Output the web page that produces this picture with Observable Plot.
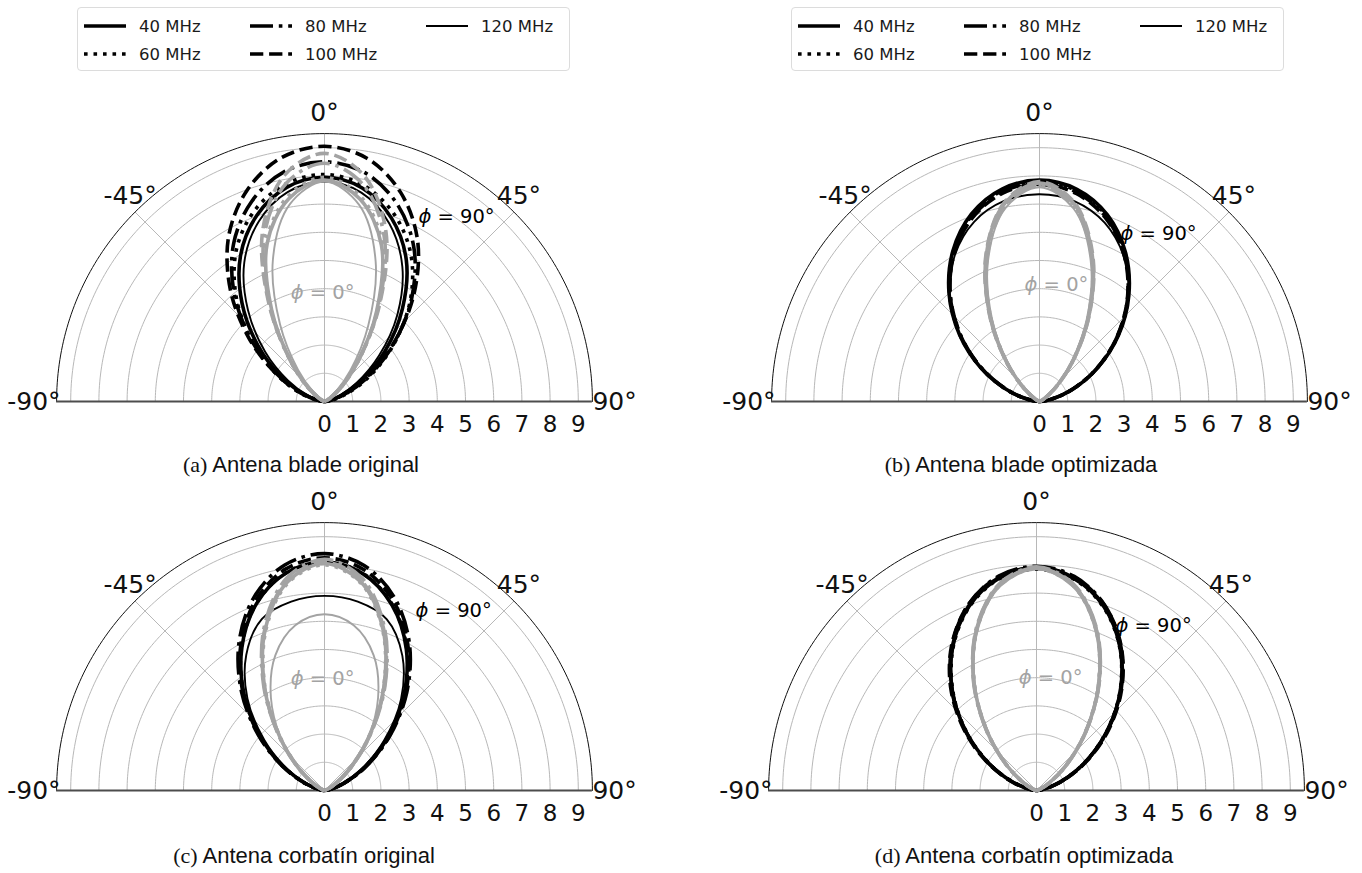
<!DOCTYPE html>
<html>
<head>
<meta charset="utf-8">
<script src="https://cdn.jsdelivr.net/npm/d3@7"></script>
<script src="https://cdn.jsdelivr.net/npm/@observablehq/plot@0.6"></script>
<style>
  body { margin: 0; background: #fff; }
  #page { position: relative; width: 1362px; height: 873px; overflow: hidden; background: #fff; font-family: "DejaVu Sans", sans-serif; }
  .panel { position: absolute; }
  .panel svg { overflow: visible; }
  .legend { position: absolute; width: 493px; height: 64px; box-sizing: border-box; border: 1px solid #dcdcdc; border-radius: 4px; background: #fff; }
  .legend .item { position: absolute; height: 20px; display: flex; align-items: center; font-size: 16.5px; color: #1a1a1a; white-space: nowrap; }
  .legend .item svg { margin-right: 13px; }
  .caption { position: absolute; transform: translate(-50%, -50%); white-space: nowrap; font-family: "Liberation Sans", Arial, sans-serif; font-size: 22px; color: #111; }
  .caption .tag { font-family: "Liberation Serif", "DejaVu Serif", serif; }
</style>
</head>
<body>
<div id="page"></div>
<script>
// Frequencies, their legend order and the sampled elevation angles (degrees)
const frequencies = ["40 MHz", "60 MHz", "80 MHz", "100 MHz", "120 MHz"];
const thetaDeg = [-90, -80, -70, -60, -50, -40, -30, -20, -10, 0, 10, 20, 30, 40, 50, 60, 70, 80, 90];
const radialTicks = [0, 1, 2, 3, 4, 5, 6, 7, 8, 9];
const ringValues = [1, 2, 3, 4, 5, 6, 7, 8, 9];
const spokeAngles = [-45, 0, 45];

// Gain patterns, one row per frequency (40, 60, 80, 100, 120 MHz), one value per angle in thetaDeg
const bladeOriginalPhi90 = [
  [0, 0.20, 0.80, 1.78, 3.08, 4.55, 5.96, 7.02, 7.71, 7.95, 7.69, 6.93, 5.80, 4.30, 2.82, 1.52, 0.64, 0.14, 0],
  [0, 0.27, 0.97, 2.00, 3.38, 4.88, 6.24, 7.22, 7.84, 8.05, 7.80, 7.12, 6.10, 4.75, 3.25, 1.92, 0.90, 0.25, 0],
  [0, 0.24, 0.90, 1.95, 3.38, 4.98, 6.45, 7.55, 8.27, 8.50, 8.24, 7.48, 6.33, 4.82, 3.22, 1.83, 0.82, 0.21, 0],
  [0, 0.23, 0.92, 2.00, 3.50, 5.20, 6.79, 7.99, 8.78, 9.05, 8.75, 7.89, 6.60, 4.92, 3.18, 1.73, 0.72, 0.16, 0],
  [0, 0.14, 0.63, 1.50, 2.75, 4.22, 5.69, 6.80, 7.54, 7.80, 7.52, 6.72, 5.52, 4.02, 2.52, 1.31, 0.51, 0.10, 0]
];
const bladeOriginalPhi0 = [
  [0, 0, 0.03, 0.22, 0.75, 1.85, 3.75, 5.95, 7.30, 7.85, 7.28, 5.90, 3.70, 1.82, 0.73, 0.21, 0.03, 0, 0],
  [0, 0, 0.03, 0.22, 0.76, 1.88, 3.80, 6.02, 7.40, 7.95, 7.38, 5.98, 3.76, 1.85, 0.74, 0.22, 0.03, 0, 0],
  [0, 0, 0.03, 0.21, 0.74, 1.86, 3.85, 6.25, 7.85, 8.45, 7.82, 6.20, 3.80, 1.83, 0.72, 0.21, 0.03, 0, 0],
  [0, 0, 0.03, 0.20, 0.72, 1.84, 3.90, 6.42, 8.15, 8.80, 8.12, 6.38, 3.86, 1.80, 0.70, 0.20, 0.03, 0, 0],
  [0, 0, 0.01, 0.12, 0.50, 1.45, 3.15, 5.35, 7.10, 7.80, 7.08, 5.30, 3.10, 1.42, 0.49, 0.12, 0.01, 0, 0]
];
const bladeOptimizedPhi90 = [
  [0, 0.40, 1.26, 2.42, 3.71, 4.99, 6.15, 7.07, 7.65, 7.85, 7.64, 7.04, 6.10, 4.93, 3.66, 2.38, 1.24, 0.39, 0],
  [0, 0.40, 1.25, 2.40, 3.68, 4.96, 6.11, 7.02, 7.60, 7.80, 7.59, 6.99, 6.06, 4.90, 3.63, 2.36, 1.22, 0.38, 0],
  [0, 0.39, 1.24, 2.38, 3.65, 4.92, 6.06, 6.97, 7.55, 7.75, 7.54, 6.94, 6.02, 4.87, 3.61, 2.35, 1.21, 0.38, 0],
  [0, 0.40, 1.25, 2.39, 3.66, 4.93, 6.05, 6.94, 7.50, 7.70, 7.49, 6.90, 6.00, 4.86, 3.60, 2.35, 1.22, 0.38, 0],
  [0, 0.40, 1.26, 2.42, 3.70, 4.95, 6.00, 6.78, 7.22, 7.35, 7.21, 6.75, 5.96, 4.90, 3.65, 2.38, 1.24, 0.39, 0]
];
const bladeOptimizedPhi0 = [
  [0, 0, 0.02, 0.17, 0.69, 1.80, 3.52, 5.52, 7.13, 7.75, 7.11, 5.48, 3.50, 1.78, 0.68, 0.17, 0.02, 0, 0],
  [0, 0, 0.02, 0.17, 0.68, 1.79, 3.50, 5.48, 7.08, 7.70, 7.06, 5.45, 3.48, 1.77, 0.67, 0.17, 0.02, 0, 0],
  [0, 0, 0.02, 0.17, 0.68, 1.78, 3.48, 5.44, 7.03, 7.65, 7.02, 5.42, 3.46, 1.76, 0.67, 0.17, 0.02, 0, 0],
  [0, 0, 0.02, 0.17, 0.69, 1.81, 3.54, 5.55, 7.17, 7.80, 7.16, 5.52, 3.52, 1.80, 0.68, 0.17, 0.02, 0, 0],
  [0, 0, 0.01, 0.14, 0.62, 1.68, 3.36, 5.33, 6.96, 7.60, 6.95, 5.31, 3.34, 1.66, 0.61, 0.14, 0.01, 0, 0]
];
const bowtieOriginalPhi90 = [
  [0, 0.15, 0.70, 1.66, 2.96, 4.43, 5.86, 7.05, 7.83, 8.10, 7.81, 7.00, 5.80, 4.37, 2.91, 1.63, 0.69, 0.15, 0],
  [0, 0.15, 0.71, 1.67, 2.98, 4.45, 5.88, 7.06, 7.84, 8.10, 7.82, 7.02, 5.83, 4.41, 2.95, 1.65, 0.70, 0.15, 0],
  [0, 0.15, 0.72, 1.72, 3.06, 4.58, 6.06, 7.30, 8.12, 8.40, 8.10, 7.27, 6.02, 4.54, 3.03, 1.70, 0.71, 0.15, 0],
  [0, 0.15, 0.70, 1.68, 3.00, 4.49, 5.94, 7.16, 7.97, 8.25, 7.96, 7.15, 5.92, 4.47, 2.99, 1.67, 0.70, 0.15, 0],
  [0, 0.13, 0.62, 1.52, 2.78, 4.25, 5.55, 6.48, 6.80, 6.90, 6.80, 6.46, 5.52, 4.22, 2.75, 1.50, 0.61, 0.13, 0]
];
const bowtieOriginalPhi0 = [
  [0, 0, 0.06, 0.36, 1.12, 2.45, 4.26, 6.12, 7.52, 8.05, 7.50, 6.07, 4.20, 2.41, 1.09, 0.35, 0.06, 0, 0],
  [0, 0, 0.06, 0.35, 1.10, 2.42, 4.22, 6.07, 7.47, 8.00, 7.46, 6.04, 4.18, 2.40, 1.09, 0.35, 0.06, 0, 0],
  [0, 0, 0.07, 0.37, 1.14, 2.49, 4.32, 6.22, 7.66, 8.20, 7.65, 6.19, 4.29, 2.46, 1.12, 0.36, 0.07, 0, 0],
  [0, 0, 0.06, 0.36, 1.12, 2.46, 4.27, 6.15, 7.57, 8.10, 7.55, 6.12, 4.24, 2.43, 1.11, 0.36, 0.06, 0, 0],
  [0, 0.01, 0.12, 0.50, 1.25, 2.40, 3.80, 5.10, 5.95, 6.25, 5.95, 5.10, 3.80, 2.40, 1.25, 0.50, 0.12, 0.01, 0]
];
const bowtieOptimizedPhi90 = [
  [0, 0.24, 0.93, 1.99, 3.28, 4.66, 5.95, 6.99, 7.67, 7.90, 7.66, 6.98, 5.93, 4.64, 3.26, 1.98, 0.92, 0.24, 0],
  [0, 0.24, 0.92, 1.97, 3.25, 4.62, 5.90, 6.94, 7.62, 7.85, 7.61, 6.93, 5.89, 4.61, 3.24, 1.96, 0.92, 0.24, 0],
  [0, 0.24, 0.93, 2.00, 3.30, 4.68, 5.98, 7.03, 7.72, 7.95, 7.71, 7.02, 5.96, 4.67, 3.28, 1.99, 0.93, 0.24, 0],
  [0, 0.26, 0.97, 2.05, 3.35, 4.73, 6.00, 7.03, 7.69, 7.90, 7.68, 7.01, 5.98, 4.70, 3.33, 2.03, 0.96, 0.25, 0],
  [0, 0.23, 0.90, 1.95, 3.22, 4.59, 5.88, 6.93, 7.61, 7.85, 7.60, 6.92, 5.86, 4.57, 3.20, 1.94, 0.90, 0.23, 0]
];
const bowtieOptimizedPhi0 = [
  [0, 0.01, 0.11, 0.49, 1.35, 2.72, 4.44, 6.16, 7.43, 7.90, 7.42, 6.15, 4.43, 2.71, 1.34, 0.49, 0.11, 0.01, 0],
  [0, 0.01, 0.11, 0.49, 1.34, 2.70, 4.42, 6.13, 7.40, 7.86, 7.39, 6.12, 4.41, 2.69, 1.33, 0.48, 0.11, 0.01, 0],
  [0, 0.01, 0.11, 0.50, 1.36, 2.74, 4.47, 6.19, 7.46, 7.93, 7.45, 6.18, 4.46, 2.73, 1.35, 0.49, 0.11, 0.01, 0],
  [0, 0.01, 0.11, 0.49, 1.35, 2.72, 4.44, 6.15, 7.42, 7.88, 7.41, 6.14, 4.43, 2.71, 1.34, 0.49, 0.11, 0.01, 0],
  [0, 0.01, 0.10, 0.47, 1.31, 2.66, 4.37, 6.08, 7.36, 7.84, 7.35, 6.07, 4.36, 2.65, 1.30, 0.47, 0.10, 0.01, 0]
];

// Drawing styles
const RMAX = 9.5;          // radial limit of each half-disc
const UNIT = 28.2;         // pixels per gain unit
const R_PX = RMAX * UNIT;
const BLACK = "#000000";
const GRAY = "#a3a3a3";
const GRID = "#b8b8b8";
const lineStyles = {
  "40 MHz":  {width: 3.6, dash: null},
  "60 MHz":  {width: 3.6, dash: "3.6,5.9"},
  "80 MHz":  {width: 3.6, dash: "23,5.8,3.6,5.8"},
  "100 MHz": {width: 3.6, dash: "13.3,5.8"},
  "120 MHz": {width: 1.9, dash: null}
};

// Panel layout: centre of each half-disc on the page, caption and label placement
const panels = [
  {cx: 324, base: 401, phi90: bladeOriginalPhi90, phi0: bladeOriginalPhi0,
   tag: "(a)", caption: "Antena blade original", capX: 301, capY: 465,
   label90: [3.33, 6.56], label0: [-0.07, 3.87]},
  {cx: 1039, base: 401, phi90: bladeOptimizedPhi90, phi0: bladeOptimizedPhi0,
   tag: "(b)", caption: "Antena blade optimizada", capX: 1021, capY: 465,
   label90: [2.87, 5.96], label0: [0.6, 4.15]},
  {cx: 324, base: 790, phi90: bowtieOriginalPhi90, phi0: bowtieOriginalPhi0,
   tag: "(c)", caption: "Antena corbatín original", capX: 304, capY: 856,
   label90: [3.23, 6.38], label0: [-0.07, 3.97]},
  {cx: 1036, base: 790, phi90: bowtieOptimizedPhi90, phi0: bowtieOptimizedPhi0,
   tag: "(d)", caption: "Antena corbatín optimizada", capX: 1024, capY: 856,
   label90: [2.8, 5.85], label0: [0.5, 4.0]}
];
const legendLefts = [77, 791];

const rad = (deg) => deg * Math.PI / 180;
const px = (d) => d.r * Math.sin(rad(d.theta));
const py = (d) => d.r * Math.cos(rad(d.theta));

const page = document.getElementById("page");

function seriesRows(matrix, phi) {
  const rows = [];
  matrix.forEach((values, i) => {
    values.forEach((r, j) => rows.push({freq: frequencies[i], phi, theta: thetaDeg[j], r}));
  });
  return rows;
}

function drawPanel(p) {
  const W = 640, H = 345, ox = 320, oy = 310;
  const arcAngles = d3.range(-90, 90.5, 1);
  const rings = ringValues.flatMap((k) => arcAngles.map((theta) => ({k, theta, r: k})));
  const outer = arcAngles.map((theta) => ({theta, r: RMAX}));
  const rows = [...seriesRows(p.phi90, "90"), ...seriesRows(p.phi0, "0")];

  const curveMarks = [];
  for (const phi of ["90", "0"]) {
    for (const f of frequencies) {
      const st = lineStyles[f];
      curveMarks.push(Plot.line(rows.filter((d) => d.phi === phi && d.freq === f), {
        x: px, y: py,
        stroke: phi === "90" ? BLACK : GRAY,
        strokeWidth: st.width,
        strokeDasharray: st.dash ?? undefined,
        strokeLinecap: "butt",
        curve: "catmull-rom"
      }));
    }
  }

  const angleText = {fontSize: 25, fill: "#111"};
  const svg = Plot.plot({
    width: W, height: H,
    x: {domain: [-RMAX, RMAX], range: [ox - R_PX, ox + R_PX], axis: null},
    y: {domain: [0, RMAX], range: [oy, oy - R_PX], axis: null},
    style: {background: "transparent", fontFamily: "DejaVu Sans, sans-serif", overflow: "visible"},
    marks: [
      Plot.line(rings, {x: px, y: py, z: "k", stroke: GRID, strokeWidth: 1}),
      Plot.link(spokeAngles, {
        x1: 0, y1: 0,
        x2: (t) => RMAX * Math.sin(rad(t)), y2: (t) => RMAX * Math.cos(rad(t)),
        stroke: GRID, strokeWidth: 1
      }),
      Plot.line(outer, {x: px, y: py, stroke: "#111", strokeWidth: 1}),
      Plot.ruleY([0], {x1: -RMAX, x2: RMAX, stroke: "#4d4d4d", strokeWidth: 1.8}),
      ...curveMarks,
      // angular tick labels
      Plot.text([0], {x: 0, y: RMAX, text: () => "0°", dy: -21, ...angleText}),
      Plot.text([-45], {x: (t) => RMAX * Math.sin(rad(t)), y: (t) => RMAX * Math.cos(rad(t)),
        text: (t) => `${t}°`, dx: -5, dy: -16.5, ...angleText}),
      Plot.text([45], {x: (t) => RMAX * Math.sin(rad(t)), y: (t) => RMAX * Math.cos(rad(t)),
        text: (t) => `${t}°`, dx: 5, dy: -16.5, ...angleText}),
      Plot.text([-90], {x: -RMAX, y: 0, text: (t) => `${t}°`, textAnchor: "end", dx: 4, dy: 0, ...angleText}),
      Plot.text([90], {x: RMAX, y: 0, text: (t) => `${t}°`, textAnchor: "start", dx: 0, dy: 0, ...angleText}),
      // radial tick labels below the base line
      Plot.text(radialTicks, {x: (k) => k, y: 0, text: (k) => String(k), dy: 23, fontSize: 23, fill: "#111"}),
      // cut-plane labels
      Plot.text(["ϕ = 90°"], {x: p.label90[0], y: p.label90[1], text: (d) => d, textAnchor: "start", fontSize: 19.5, fill: BLACK}),
      Plot.text(["ϕ = 0°"], {x: p.label0[0], y: p.label0[1], text: (d) => d, fontSize: 19.5, fill: GRAY})
    ]
  });

  // italic phi, upright remainder
  d3.select(svg).selectAll("text").filter(function () {
    return this.textContent.startsWith("ϕ");
  }).each(function () {
    const rest = this.textContent.slice(1);
    const t = d3.select(this);
    t.text(null);
    t.append("tspan").attr("font-style", "italic").text("ϕ");
    t.append("tspan").text(rest);
  });

  const holder = document.createElement("div");
  holder.className = "panel";
  holder.style.left = `${p.cx - ox}px`;
  holder.style.top = `${p.base - oy}px`;
  holder.appendChild(svg);
  page.appendChild(holder);

  const cap = document.createElement("div");
  cap.className = "caption";
  cap.style.left = `${p.capX}px`;
  cap.style.top = `${p.capY}px`;
  const tag = document.createElement("span");
  tag.className = "tag";
  tag.textContent = p.tag;
  cap.appendChild(tag);
  cap.appendChild(document.createTextNode(" " + p.caption));
  page.appendChild(cap);
}

function drawLegend(left) {
  const box = document.createElement("div");
  box.className = "legend";
  box.style.left = `${left}px`;
  box.style.top = "7px";
  // ncol = 3, filled column by column
  const cols = [6, 172, 348];
  const rowsY = [8, 36];
  frequencies.forEach((f, i) => {
    const col = Math.floor(i / 2), row = i % 2;
    const item = document.createElement("div");
    item.className = "item";
    item.style.left = `${cols[col]}px`;
    item.style.top = `${rowsY[row]}px`;
    const st = lineStyles[f];
    const sw = d3.create("svg").attr("width", 42).attr("height", 20);
    sw.append("line").attr("x1", 0).attr("x2", 42).attr("y1", 10).attr("y2", 10)
      .attr("stroke", "#000").attr("stroke-width", st.width)
      .attr("stroke-dasharray", st.dash).attr("stroke-linecap", "butt");
    item.appendChild(sw.node());
    const label = document.createElement("span");
    label.textContent = f;
    item.appendChild(label);
    box.appendChild(item);
  });
  page.appendChild(box);
}

panels.forEach(drawPanel);
legendLefts.forEach(drawLegend);
</script>
</body>
</html>
